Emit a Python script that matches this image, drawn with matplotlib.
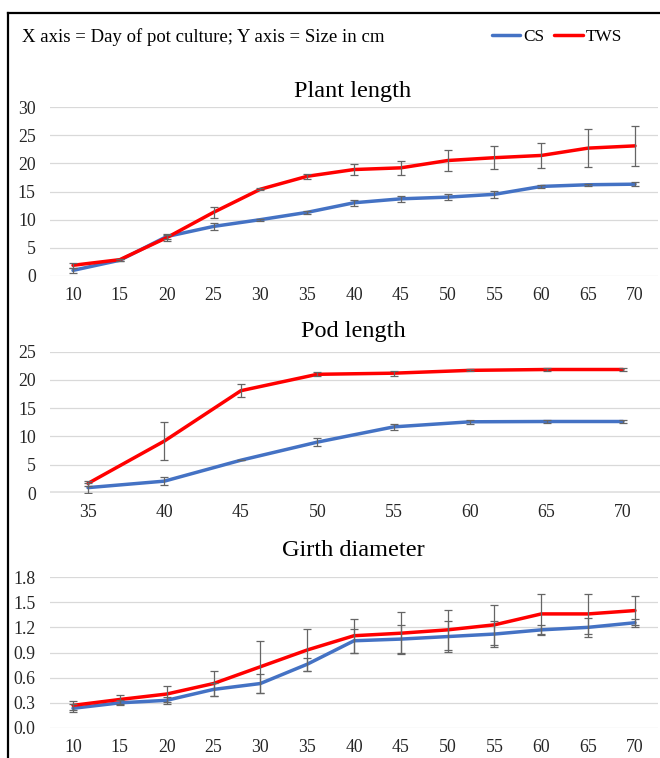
import matplotlib
matplotlib.use("Agg")
import matplotlib.pyplot as plt
from matplotlib.lines import Line2D
import numpy as np

plt.rcParams['font.family'] = ['Liberation Serif', 'DejaVu Serif']

# ---------------- data ----------------
days_a = [10, 15, 20, 25, 30, 35, 40, 45, 50, 55, 60, 65, 70]
days_pod = [35, 40, 45, 50, 55, 60, 65, 70]

plant_cs = [1.0, 2.8, 7.0, 8.8, 10.0, 11.3, 13.0, 13.7, 14.0, 14.5, 15.9, 16.2, 16.3]
plant_cs_err = [0.4, 0.2, 0.5, 0.6, 0.2, 0.3, 0.5, 0.55, 0.5, 0.6, 0.2, 0.2, 0.3]
plant_tws = [1.9, 2.9, 6.8, 11.3, 15.4, 17.7, 18.9, 19.2, 20.5, 21.0, 21.4, 22.7, 23.1]
plant_tws_err = [0.4, 0.2, 0.5, 0.95, 0.2, 0.45, 1.0, 1.2, 1.9, 2.0, 2.25, 3.4, 3.6]

pod_cs = [0.95, 2.1, 5.8, 9.0, 11.7, 12.6, 12.65, 12.65]
pod_cs_err = [0.9, 0.75, 0.0, 0.75, 0.5, 0.35, 0.3, 0.3]
pod_tws = [1.7, 9.2, 18.1, 21.0, 21.2, 21.7, 21.85, 21.85]
pod_tws_err = [0.4, 3.3, 1.1, 0.35, 0.45, 0.2, 0.25, 0.25]

girth_cs = [0.235, 0.30, 0.33, 0.46, 0.53, 0.76, 1.04, 1.06, 1.09, 1.12, 1.17, 1.20, 1.255]
girth_cs_err = [0.05, 0.03, 0.04, 0.075, 0.11, 0.08, 0.14, 0.17, 0.18, 0.15, 0.06, 0.11, 0.05]
girth_tws = [0.27, 0.34, 0.405, 0.53, 0.73, 0.93, 1.10, 1.13, 1.17, 1.23, 1.36, 1.36, 1.40]
girth_tws_err = [0.05, 0.05, 0.095, 0.15, 0.31, 0.25, 0.20, 0.25, 0.24, 0.24, 0.24, 0.24, 0.175]

series_names = ['CS', 'TWS']
series_colors = ['#4472C4', '#FF0000']

W, H = 660, 758
fig = plt.figure(figsize=(W / 100, H / 100), dpi=100)


def ax_at(left, top, right, bottom):
    return fig.add_axes([left / W, 1 - bottom / H, (right - left) / W, (bottom - top) / H])


def draw_panel(ax, days, cs, cs_err, tws, tws_err, yticks, fmt, ymax, thick_base=False):
    x = np.arange(len(days))
    handles = []
    for vals, errs, col, name in [(cs, cs_err, series_colors[0], series_names[0]),
                                  (tws, tws_err, series_colors[1], series_names[1])]:
        ln, = ax.plot(x, vals, color=col, lw=2.5, solid_capstyle='round', zorder=3, label=name)
        ax.errorbar(x, vals, yerr=errs, fmt='none', ecolor='#656565', elinewidth=0.9,
                    capsize=2.6, capthick=0.9, zorder=4)
        handles.append(ln)
    ax.set_xlim(-0.5, len(days) - 0.5)
    ax.set_ylim(0, ymax)
    ax.set_xticks(x)
    ax.set_xticklabels([str(d) for d in days], fontsize=12.8)
    ax.set_yticks(yticks)
    ax.set_yticklabels([fmt.format(v) for v in yticks], fontsize=12.8)
    ax.tick_params(axis='both', length=0, colors='#262626')
    ax.tick_params(axis='y', pad=10)
    ax.tick_params(axis='x', pad=8)
    for s in ax.spines.values():
        s.set_visible(False)
    ax.grid(axis='y', color='#D9D9D9', lw=0.9, zorder=0)
    ax.set_axisbelow(True)
    if thick_base:
        ax.axhline(0, color='#E3E3E3', lw=2.8, zorder=1)
    return handles


ax1 = ax_at(49.6, 107, 658.4, 276)
handles = draw_panel(ax1, days_a, plant_cs, plant_cs_err, plant_tws, plant_tws_err,
                     [0, 5, 10, 15, 20, 25, 30], '{:g}', 30)

ax2 = ax_at(49.8, 351.7, 661.2, 493)
draw_panel(ax2, days_pod, pod_cs, pod_cs_err, pod_tws, pod_tws_err,
           [0, 5, 10, 15, 20, 25], '{:g}', 25, thick_base=True)

ax3 = ax_at(49.6, 577, 658.4, 728)
draw_panel(ax3, days_a, girth_cs, girth_cs_err, girth_tws, girth_tws_err,
           [0.0, 0.3, 0.6, 0.9, 1.2, 1.5, 1.8], '{:.1f}', 1.8)

# titles
for txt, yc in [('Plant length', 92), ('Pod length', 331), ('Girth diameter', 551)]:
    fig.text(353 / W, 1 - yc / H, txt, ha='center', va='center', fontsize=17.5, color='#000000')

# header
fig.text(22 / W, 1 - 37 / H, 'X axis = Day of pot culture; Y axis = Size in cm',
         ha='left', va='center', fontsize=13.5, color='#000000')

leg = fig.legend(handles=handles, labels=series_names, loc='center left',
                 bbox_to_anchor=(492 / W, 1 - 37 / H), ncol=2, frameon=False,
                 fontsize=12.4, handlelength=1.65, handletextpad=0.15, columnspacing=0.6,
                 borderaxespad=0, borderpad=0)

# figure border (top and left)
fig.add_artist(Line2D([8 / W, 1.0], [1 - 13 / H, 1 - 13 / H], color='black', lw=1.6,
                      transform=fig.transFigure))
fig.add_artist(Line2D([8 / W, 8 / W], [1 - 13 / H, 0], color='black', lw=1.6,
                      transform=fig.transFigure))

fig.savefig('out.png', dpi=100)
